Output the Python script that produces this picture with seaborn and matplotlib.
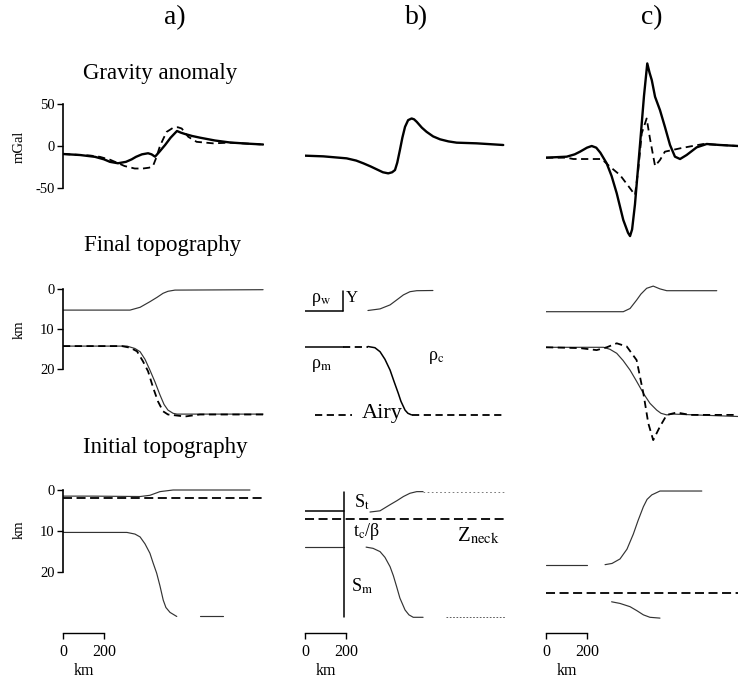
import numpy as np
import pandas as pd
import matplotlib
matplotlib.use("Agg")
import matplotlib.pyplot as plt
import seaborn as sns

# ---------------- data (km along profile, values) ----------------
# Gravity anomaly (mGal)
grav_a_km = [0, 83, 156, 200, 229, 268, 307, 335, 356, 385, 415, 432, 449, 470, 498, 525, 556, 575, 595, 630, 668, 741, 815, 888, 976]
grav_a_model = [-9.6, -10.8, -13, -16, -19, -20.7, -19, -16, -13, -10, -8.7, -10, -12.8, -7, 1.2, 10, 18, 16, 14.4, 12, 10, 6.6, 4.2, 3, 1.8]
grav_a_dash_km = [0, 132, 180, 230, 268, 300, 350, 390, 420, 439, 455, 473, 490, 506, 538, 560, 579, 595, 611, 652, 732, 815, 888, 976]
grav_a_dash = [-9.6, -11.4, -13, -16.5, -20.5, -24, -27, -27, -26, -24, -14, 0, 9, 17, 22, 22.5, 21, 16, 11, 5, 3.2, 4, 3, 1.8]

grav_b_km = [0, 89, 203, 250, 285, 320, 350, 380, 406, 425, 439, 450, 463, 475, 488, 503, 520, 532, 545, 570, 593, 625, 659, 700, 740, 837, 967]
grav_b = [-11.6, -12.4, -14.8, -17.5, -20.8, -24.5, -28, -31.5, -32.8, -31.5, -28.8, -20, -4.8, 10, 23, 31, 33, 32, 29, 22, 17, 11.5, 8, 5.5, 4, 3.2, 1.2]

grav_c_km = [0, 101, 140, 166, 200, 223, 245, 265, 296, 320, 345, 377, 400, 410, 420, 434, 446, 459, 478, 494,
             505, 516, 532, 556, 580, 605, 629, 654, 686, 735, 784, 849, 937]
grav_c = [-14, -12.8, -10, -6.8, -2, 0, -2, -8, -20.8, -36, -56.7, -88.7, -104, -108, -100, -70, -35, 3, 60, 99,
          88, 79, 59, 43, 23, 1.2, -12.8, -15.6, -10.8, -1.6, 2.4, 1.2, 0]
grav_c_dash_km = [0, 101, 133, 272, 312, 361, 410, 434, 450, 467, 491, 507, 532, 556, 580, 654, 767, 849, 937]
grav_c_dash = [-14, -14, -15.6, -15.6, -24.8, -34.8, -50.7, -58.8, -28.8, 15.2, 33, 9.2, -24, -16.8, -6.8, -2.8, 2.4, 1.2, 0]

# Final topography (km depth)
final_a_top_km = [0, 327, 376, 424, 459, 488, 512, 546, 976]
final_a_top = [5.2, 5.2, 4.5, 3.1, 2.0, 1.0, 0.5, 0.2, 0.1]
final_a_moho_km = [0, 312, 351, 376, 400, 424, 449, 473, 493, 512, 537, 556, 976]
final_a_moho = [14.2, 14.2, 14.8, 15.6, 17.5, 20.2, 23.2, 26.4, 28.8, 30.2, 31.0, 31.2, 31.2]
final_a_airy_km = [0, 288, 327, 361, 390, 415, 439, 463, 488, 512, 546, 595, 668, 976]
final_a_airy = [14.2, 14.2, 14.6, 15.5, 18, 20.5, 24.5, 28, 30.5, 31.3, 31.5, 31.8, 31.3, 31.3]

final_b_left_km = [0, 185]
final_b_left_top = [5.3, 5.3]
final_b_left_moho = [14.3, 14.3]
final_b_Y_depth = [0.4, 5.3]
final_b_gap_km = [185, 307]
final_b_top_km = [307, 366, 415, 449, 480, 512, 545, 624]
final_b_top = [5.3, 4.9, 3.9, 2.6, 1.4, 0.6, 0.35, 0.3]
final_b_moho_km = [307, 341, 366, 390, 415, 434, 455, 468, 488, 502, 520]
final_b_moho = [14.3, 14.6, 15.6, 17.5, 20.2, 23, 26, 28, 30.2, 31, 31.4]
final_b_tail_km = [520, 976]
final_b_tail = [31.4, 31.4]
airy_key_km = [49, 228]
airy_key = [31.4, 31.4]

final_c_top_km = [0, 377, 410, 442, 463, 491, 523, 556, 589, 833]
final_c_top = [5.6, 5.6, 4.8, 2.7, 1.2, -0.25, -0.8, -0.1, 0.35, 0.35]
final_c_moho_km = [0, 280, 312, 345, 376, 410, 442, 475, 507, 540, 561, 589, 621, 937]
final_c_moho = [14.5, 14.5, 15, 16, 17.8, 20.2, 23, 26, 28.5, 30.2, 31, 31.4, 31.2, 31.8]
final_c_dash_km = [0, 166, 247, 296, 345, 394, 442, 475, 499, 523, 556, 589, 638, 702, 930]
final_c_dash = [14.5, 14.7, 15.2, 14.5, 13.5, 14.3, 17.7, 26, 33.5, 37.7, 34.3, 31.4, 30.8, 31.4, 31.4]

# Initial topography (km depth)
init_a_top_km = [0, 146, 376, 424, 473, 537, 912]
init_a_top = [1.5, 1.5, 1.6, 1.3, 0.4, 0, 0]
init_a_neck_km = [0, 976]
init_a_neck = [2.0, 2.0]
init_a_moho_km = [0, 312, 351, 376, 400, 424, 439, 457, 473, 489, 502, 522, 555]
init_a_moho = [10.4, 10.4, 10.8, 11.5, 13.2, 15.5, 17.8, 20.4, 23.5, 27, 28.8, 30, 31]
init_a_tail_km = [668, 780]
init_a_tail = [31, 31]

init_b_left_km = [0, 191]
init_b_left_top = [5.2, 5.2]
init_b_left_moho = [14, 14]
init_b_wall_depth = [0.4, 31.2]
init_b_neck_km = [0, 976]
init_b_neck = [7.2, 7.2]
init_b_top_km = [317, 366, 415, 449, 480, 512, 545, 576]
init_b_top = [5.4, 5.1, 3.6, 2.6, 1.6, 0.8, 0.4, 0.4]
init_b_top_tail_km = [576, 976]
init_b_top_tail = [0.4, 0.4]
init_b_moho_km = [298, 332, 366, 390, 415, 431, 447, 463, 488, 507, 528, 576]
init_b_moho = [14, 14.3, 15.1, 16.5, 18.8, 21, 23.7, 26.5, 29.4, 30.6, 31.2, 31.2]
init_b_moho_tail_km = [690, 976]
init_b_moho_tail = [31.2, 31.2]

init_c_left_km = [0, 199]
init_c_left = [18.3, 18.3]
init_c_top_km = [288, 322, 361, 395, 426, 449, 475, 493, 516, 556, 760]
init_c_top = [18.3, 18.0, 16.9, 14.5, 10.8, 7.5, 4.1, 2.3, 1.2, 0.25, 0.25]
init_c_neck_km = [0, 937]
init_c_neck = [25.3, 25.3]
init_c_moho_km = [320, 361, 410, 444, 475, 507, 556]
init_c_moho = [27.4, 27.8, 28.6, 29.6, 30.6, 31.2, 31.4]

scale_ticks = [0, 200]
grav_ticks = [-50, 0, 50]
topo_ticks = [0, 10, 20]

# ---------------- styling ----------------
sns.set_style("white")
plt.rcParams["font.family"] = ["Liberation Serif", "DejaVu Serif"]
plt.rcParams["mathtext.fontset"] = "stix"

W, H = 738, 683
fig = plt.figure(figsize=(W / 100, H / 100), dpi=100)

PX_PER_KM = 0.205
XMAX = 980
col_x0 = {"a": 63, "b": 305, "c": 546}
rows = {
    "grav": (55, 240, (146 - 240) / 0.834, (146 - 55) / 0.834),
    "final": (275, 445, (445 - 289.3) / 4.0, (275 - 289.3) / 4.0),
    "init": (478, 680, (680 - 490) / 4.08, (478 - 490) / 4.08),
}

def make_ax(col, row):
    ytop, ybot, lo, hi = rows[row]
    x0 = col_x0[col]
    ax = fig.add_axes([x0 / W, 1 - ybot / H, XMAX * PX_PER_KM / W, (ybot - ytop) / H])
    ax.set_xlim(0, XMAX)
    ax.set_ylim(lo, hi)
    ax.set_facecolor("none")
    for s in ax.spines.values():
        s.set_visible(False)
    ax.set_xticks([])
    ax.set_yticks([])
    return ax

def line(ax, x, y, lw=0.9, ls="-", color="#333333"):
    sns.lineplot(x=x, y=y, ax=ax, color=color, lw=lw, linestyle=ls,
                 sort=False, estimator=None, legend=False)
    ax.set_xlabel("")
    ax.set_ylabel("")

THICK = 1.7
DASH = 1.3
THIN = 0.85
DASHES = (0, (4, 2.5))
NECK = (0, (5, 2.5))

axes = {}
for c in "abc":
    for r in rows:
        axes[(c, r)] = make_ax(c, r)

# Gravity row
ax = axes[("a", "grav")]
line(ax, grav_a_km, grav_a_model, THICK, "-", "k")
line(ax, grav_a_dash_km, grav_a_dash, DASH, DASHES, "k")
ax = axes[("b", "grav")]
line(ax, grav_b_km, grav_b, THICK, "-", "k")
ax = axes[("c", "grav")]
line(ax, grav_c_km, grav_c, THICK, "-", "k")
line(ax, grav_c_dash_km, grav_c_dash, DASH, DASHES, "k")

# Final topography row
ax = axes[("a", "final")]
line(ax, final_a_top_km, final_a_top, THIN)
line(ax, final_a_moho_km, final_a_moho, THIN)
line(ax, final_a_airy_km, final_a_airy, DASH, DASHES, "k")

ax = axes[("b", "final")]
line(ax, final_b_left_km, final_b_left_top, 1.1, "-", "k")
line(ax, [final_b_left_km[1]] * 2, final_b_Y_depth, 1.1, "-", "k")
line(ax, final_b_top_km, final_b_top, THIN)
line(ax, final_b_left_km, final_b_left_moho, 1.1, "-", "k")
line(ax, final_b_gap_km, final_b_left_moho, DASH, DASHES, "k")
line(ax, final_b_moho_km, final_b_moho, 1.1, "-", "k")
line(ax, final_b_tail_km, final_b_tail, DASH, DASHES, "k")
line(ax, airy_key_km, airy_key, DASH, DASHES, "k")

ax = axes[("c", "final")]
line(ax, final_c_top_km, final_c_top, THIN)
line(ax, final_c_moho_km, final_c_moho, THIN)
line(ax, final_c_dash_km, final_c_dash, DASH, DASHES, "k")

# Initial topography row
ax = axes[("a", "init")]
line(ax, init_a_top_km, init_a_top, THIN)
line(ax, init_a_neck_km, init_a_neck, DASH, NECK, "k")
line(ax, init_a_moho_km, init_a_moho, THIN)
line(ax, init_a_tail_km, init_a_tail, THIN)

ax = axes[("b", "init")]
line(ax, init_b_left_km, init_b_left_top, 1.1, "-", "k")
line(ax, init_b_left_km, init_b_left_moho, THIN)
line(ax, [init_b_left_km[1]] * 2, init_b_wall_depth, 1.1, "-", "k")
line(ax, init_b_neck_km, init_b_neck, DASH, NECK, "k")
line(ax, init_b_top_km, init_b_top, THIN)
line(ax, init_b_top_tail_km, init_b_top_tail, 0.6, (0, (2, 3)), "#666666")
line(ax, init_b_moho_km, init_b_moho, THIN)
line(ax, init_b_moho_tail_km, init_b_moho_tail, 0.6, (0, (2, 2)), "#444444")

ax = axes[("c", "init")]
line(ax, init_c_left_km, init_c_left, THIN)
line(ax, init_c_top_km, init_c_top, THIN)
line(ax, init_c_neck_km, init_c_neck, DASH, NECK, "k")
line(ax, init_c_moho_km, init_c_moho, THIN)

# ---------------- axes (left spines in column a, scale bars) ----------------
TICKFS = 10.5
for r, ticks, bounds in [("grav", grav_ticks, (-50, 50)), ("final", topo_ticks, (0, 20)),
                         ("init", topo_ticks, (0, 20))]:
    ax = axes[("a", r)]
    sp = ax.spines["left"]
    sp.set_visible(True)
    sp.set_color("k")
    sp.set_linewidth(1.2)
    sp.set_position(("data", 0))
    sp.set_bounds(*bounds)
    ax.set_yticks(ticks)
    ax.set_yticklabels([str(t) for t in ticks])
    ax.tick_params(axis="y", direction="out", length=4, width=1, pad=2,
                   labelsize=TICKFS, left=True, colors="k")

for c in "abc":
    ax = axes[(c, "init")]
    sp = ax.spines["bottom"]
    sp.set_visible(True)
    sp.set_color("k")
    sp.set_linewidth(1.0)
    sp.set_position(("data", (633 - 490) / 4.08))
    sp.set_bounds(scale_ticks[0], scale_ticks[-1])
    ax.set_xticks(scale_ticks)
    ax.set_xticklabels([str(t) for t in scale_ticks])
    ax.tick_params(axis="x", direction="out", length=4, width=1, pad=4,
                   labelsize=11.5, bottom=True, colors="k")

# ---------------- texts ----------------
def ftext(px, py, s, size, **kw):
    fig.text(px / W, 1 - py / H, s, fontsize=size, ha=kw.pop("ha", "center"),
             va=kw.pop("va", "center"), color="k", **kw)

ftext(175, 18, "a)", 20)
ftext(417, 18, "b)", 20)
ftext(652, 18, "c)", 20)
ftext(160, 74, "Gravity anomaly", 16.5)
ftext(163, 245, "Final topography", 16.5)
ftext(165, 448, "Initial topography", 16.5)

ftext(19, 147, "mGal", 10.5, rotation=90)
ftext(19, 330, "km", 10.5, rotation=90)
ftext(19, 530, "km", 10.5, rotation=90)
for c in "abc":
    ftext(col_x0[c] + 21, 671, "km", 11.5)

ftext(321, 299, "ρ$_{\\rm w}$", 13)
ftext(352, 298, "Y", 12)
ftext(322, 365, "ρ$_{\\rm m}$", 13)
ftext(436, 357, "ρ$_{\\rm c}$", 13)
ftext(382, 413, "Airy", 16)
ftext(362, 502, "S$_{\\rm t}$", 13)
ftext(367, 531, "t$_{\\rm c}$/β", 13)
ftext(478, 536, "Z$_{\\rm neck}$", 15)
ftext(362, 586, "S$_{\\rm m}$", 13)

fig.savefig("out.png", dpi=100)
